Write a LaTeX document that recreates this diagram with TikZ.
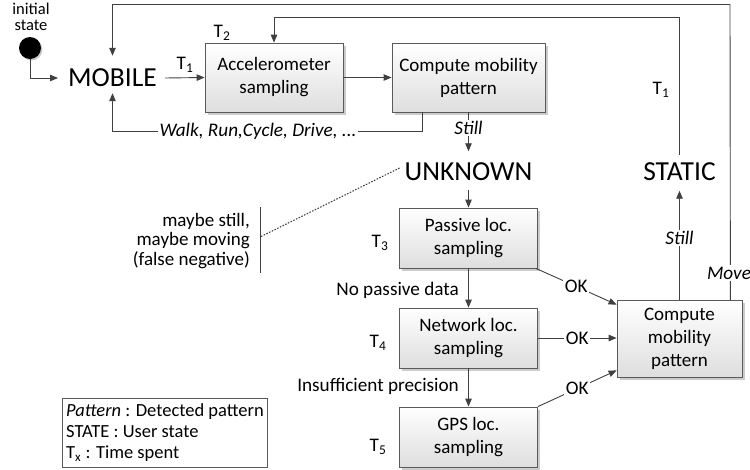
\documentclass[tikz,border=0pt]{standalone}
\usepackage{fontspec}
\setmainfont{Carlito}
\usetikzlibrary{arrows.meta,shadows}
\definecolor{lncol}{HTML}{404040}
\definecolor{bdcol}{HTML}{5A5A5A}
\begin{document}
\begin{tikzpicture}[x=1pt,y=-1pt,
  box/.style={draw=bdcol, line width=0.8pt, top color=white, bottom color=black!13,
    drop shadow={shadow xshift=2.5pt, shadow yshift=-2.5pt, fill=black!40, opacity=0.5},
    align=center, font=\fontsize{19}{23}\selectfont, inner sep=2pt},
  statelbl/.style={font=\fontsize{27.5}{30}\selectfont, inner sep=0pt},
  lbl/.style={font=\fontsize{19.2}{20}\selectfont, inner sep=1pt},
  onl/.style={lbl, fill=white, inner sep=1.5pt},
  wire/.style={draw=lncol, line width=0.9pt},
  arr/.style={wire, -{Triangle[length=8pt,width=6.5pt]}},
]
\useasboundingbox (0,0) rectangle (750,469);

% initial state
\node[circle, fill=black, minimum size=22pt, inner sep=0pt,
  drop shadow={shadow xshift=1.5pt, shadow yshift=-1.5pt, fill=black!40, opacity=0.5}] (init) at (30,48) {};
\node[lbl, align=center, anchor=south, inner sep=0pt, font=\fontsize{16.5}{16.5}\selectfont] (initlbl) at (31,31) {initial\\state};

% states
\node[statelbl] (mobile) at (112.5,78) {MOBILE};
\node[statelbl] (unknown) at (468.5,172) {UNKNOWN};
\node[statelbl] (static) at (679.5,172) {STATIC};

% boxes
\node[box, minimum width=138pt, minimum height=69pt] (acc) at (274,77.5) {Accelerometer\\sampling};
\node[box, minimum width=153pt, minimum height=69pt] (cmp1) at (468.5,77.5) {Compute mobility\\pattern};
\node[box, minimum width=138pt, minimum height=60pt] (pas) at (468.5,238) {Passive loc.\\sampling};
\node[box, minimum width=138pt, minimum height=60pt] (net) at (468.5,338) {Network loc.\\sampling};
\node[box, minimum width=138pt, minimum height=60pt] (gps) at (468.5,437) {GPS loc.\\sampling};
\node[box, minimum width=125pt, minimum height=77pt] (cmp2) at (679.5,339) {Compute\\mobility\\pattern};

% time labels
\node[lbl] (t2) at (222,33) {T\textsubscript{2}};
\node[lbl] (t1a) at (185,65) {T\textsubscript{1}};
\node[lbl] (t1b) at (661,90) {T\textsubscript{1}};
\node[lbl] (t3) at (380,243) {T\textsubscript{3}};
\node[lbl] (t4) at (378,343) {T\textsubscript{4}};
\node[lbl] (t5) at (378,447) {T\textsubscript{5}};

% connectors
\draw[arr] (init.south) |- ([xshift=-10pt]mobile.west);
\draw[arr] ([xshift=8pt]mobile.east) -- (acc.west);
\draw[arr] (acc.east) -- (cmp1.west);
\draw[arr] ([xshift=31pt]cmp1.south west) -- ++(0,19) coordinate (fbc) -| ([yshift=-6pt]mobile.south);
\node[onl] (walk) at (258,131) {\itshape Walk, Run,Cycle, Drive, ...};
\draw[arr] (cmp1.south) -- ([yshift=11.5pt]unknown.north) node[onl, pos=0.4] {\itshape Still};
\draw[arr] ([yshift=-9pt]unknown.south) -- (pas.north);
\draw[arr] (pas.south) -- (net.north);
\node[lbl, anchor=east] (nopass) at (460,290) {No passive data};
\draw[arr] (net.south) -- (gps.north);
\node[lbl, anchor=east] (insuf) at (460,386) {Insufficient precision};

\draw[arr] ([xshift=-2pt]pas.south east) -- ([yshift=-4.5pt]cmp2.north west) node[onl, midway] {OK};
\draw[arr] (net.east) -- (net.east -| cmp2.west) node[onl, midway] {OK};
\draw[arr] (gps.north east) -- ([yshift=7.5pt]cmp2.south west) node[onl, midway] {OK};

\draw[arr] (cmp2.north) -- ([yshift=-9.5pt]static.south) node[onl, pos=0.57] {\itshape Still};
\coordinate (itop) at (679.5,17);
\draw[arr] ([yshift=8pt]static.north) -- (itop) -| (acc.north);
\coordinate (otop) at (730,4.5);
\draw[arr] ([xshift=-12pt]cmp2.north east) -- (otop) -| ([yshift=13pt]mobile.north);
\node[onl] (move) at (729,273) {\itshape Move};

% note about UNKNOWN
\coordinate (bmid) at (260,237);
\draw[wire, line width=0.8pt] ([yshift=30pt]bmid) -- ([yshift=-36pt]bmid);
\draw[draw=black!80, line width=1pt, dash pattern=on 1.5pt off 1.5pt] ([xshift=-5pt,yshift=4pt]unknown.west) -- (bmid);
\node[lbl, align=right, anchor=east, font=\fontsize{19}{19.5}\selectfont] (maybe) at (251,241) {maybe still,\\maybe moving\\(false negative)};

% legend
\node[draw=bdcol, line width=0.8pt, fill=white, minimum width=204pt, minimum height=69pt,
  align=left, font=\fontsize{18.5}{21}\selectfont] (legend) at (165,433)
  {\textit{Pattern} : Detected pattern\\STATE : User state\\T\textsubscript{x} : Time spent};
\end{tikzpicture}
\end{document}
